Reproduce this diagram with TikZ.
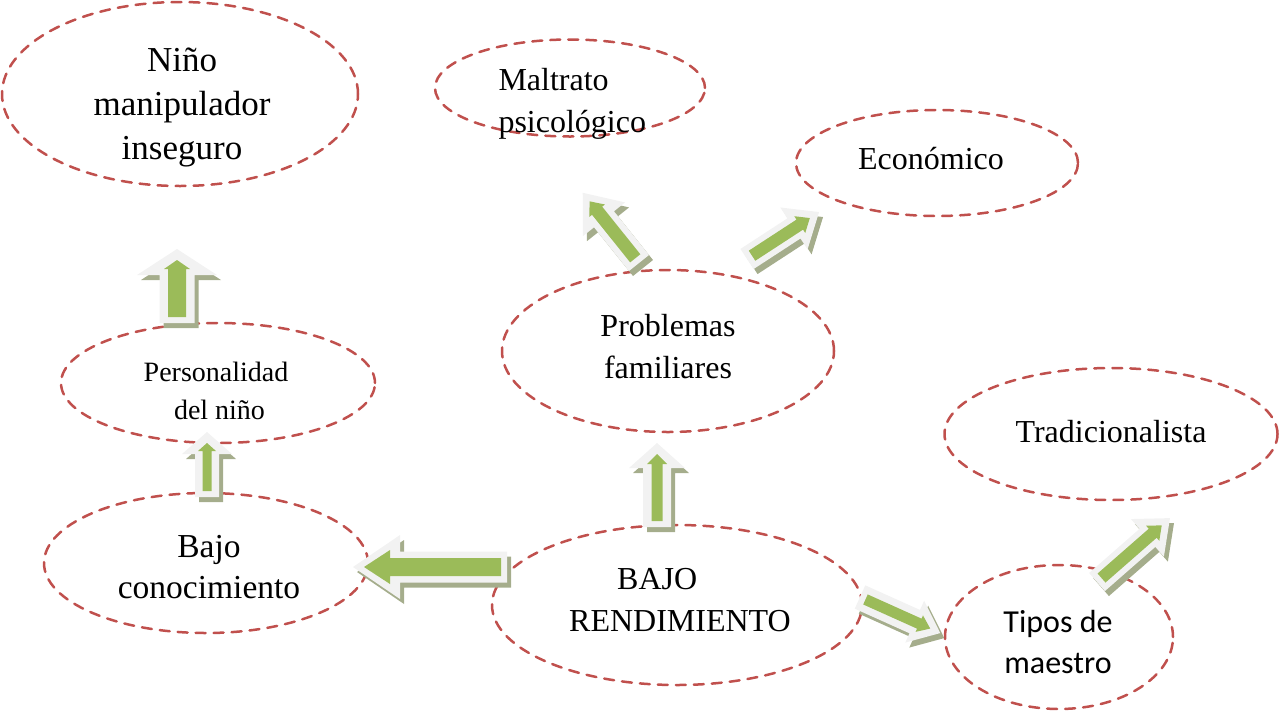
\documentclass[tikz,border=0pt]{standalone}
\usepackage{fontspec}
\setmainfont{Liberation Serif}
\newfontfamily\carlito{Carlito}
\usepackage{tikz}
\usetikzlibrary{shapes.geometric}
\usetikzlibrary{positioning}
\definecolor{bubblered}{HTML}{C0504D}
\definecolor{arrowgreen}{HTML}{9BBB59}
\definecolor{arrowrim}{HTML}{F2F2F2}
\definecolor{arrowshade}{HTML}{A5AD8C}
% tail, angle, length, shaft, head, head length, inner shaft, inner head, inner head length
\newcommand{\blockarrow}[9]{%
\begin{scope}[shift={(4,5)}]
\begin{scope}[shift={(#1)},rotate=#2]
\fill[arrowshade] (0,#4) -- ({#3-#6},#4) -- ({#3-#6},#5) -- (#3,0) -- ({#3-#6},-#5) -- ({#3-#6},-#4) -- (0,-#4) -- cycle;
\end{scope}
\end{scope}
\begin{scope}[shift={(#1)},rotate=#2]
\fill[arrowrim] (0,#4) -- ({#3-#6},#4) -- ({#3-#6},#5) -- (#3,0) -- ({#3-#6},-#5) -- ({#3-#6},-#4) -- (0,-#4) -- cycle;
\fill[arrowgreen] (6,#7) -- ({#3-11-#9},#7) -- ({#3-11-#9},#8) -- ({#3-11},0) -- ({#3-11-#9},-#8) -- ({#3-11-#9},-#7) -- (6,-#7) -- cycle;
\end{scope}}

\begin{document}
\begin{tikzpicture}[line cap=round,line join=round,x=1pt,y=-1pt,
  bubble/.style={ellipse,draw=bubblered,line width=2.5pt,dash pattern=on 10pt off 8pt,inner sep=0pt},
  bubbletext/.style={align=center,font=\fontsize{32}{42}\selectfont}]
\useasboundingbox (0,0) rectangle (1281,710);
\node[bubble,minimum width=356,minimum height=184] (nino) at (180,94) {};
\node[bubble,minimum width=270,minimum height=97] (maltrato) at (570,88) {};
\node[bubble,minimum width=282,minimum height=106] (economico) at (937,163) {};
\node[bubble,minimum width=332,minimum height=162] (problemas) at (668,351) {};
\node[bubble,minimum width=314,minimum height=120] (personalidad) at (218,383) {};
\node[bubble,minimum width=333,minimum height=132] (tradicional) at (1111,434) {};
\node[bubble,minimum width=324,minimum height=140] (conocimiento) at (206,563) {};
\node[bubble,minimum width=370,minimum height=160] (rendimiento) at (677,605) {};
\node[bubble,minimum width=228,minimum height=144] (maestro) at (1059,637) {};

\blockarrow{507,567}{180}{154}{15.5}{32}{47}{9}{17}{26}
\blockarrow{177,323}{90}{74}{17.5}{40}{26}{9}{13}{9}
\blockarrow{207,497}{90}{65}{12}{25}{22}{4.5}{9}{8}
\blockarrow{657,527}{90}{84}{14}{28}{25}{5.5}{10}{10}
\blockarrow{639,263}{128.7}{90}{12.8}{27}{34}{6.5}{10}{12}
\blockarrow{747,259}{33.1}{86}{12}{25}{30}{6}{10}{12}
\blockarrow{860,597}{-24.2}{88}{12.8}{23}{28}{5.5}{9}{12}
\blockarrow{1097,582}{41.2}{97}{12}{25}{30}{6}{10}{12}

\node[bubbletext,font=\fontsize{35}{44}\selectfont] (ninotxt) at (182,107) {Niño\\manipulador\\inseguro};
\node[bubbletext,align=left,anchor=west] (maltratotxt) at (495,104) {Maltrato\\psicológico};
\node[bubbletext] (economicotxt) at (931,159) {Económico};
\node[bubbletext] (problemastxt) at (668,347) {Problemas\\familiares};
\node[bubbletext,font=\fontsize{28}{38}\selectfont] (personalidadtxt) at (216,391) {Personalidad\\\ del niño};
\node[bubbletext] (tradicionaltxt) at (1111,432) {Tradicionalista};
\node[bubbletext,font=\fontsize{33.5}{41}\selectfont] (conocimientotxt) at (209,567) {Bajo\\conocimiento};
\node[bubbletext,align=left] (rendimientotxt) at (680,600) {\hspace*{48pt}BAJO\\RENDIMIENTO};
\node[bubbletext,font=\carlito\fontsize{32}{41}\selectfont] (maestrotxt) at (1058,642) {Tipos de\\maestro};
\end{tikzpicture}
\end{document}
